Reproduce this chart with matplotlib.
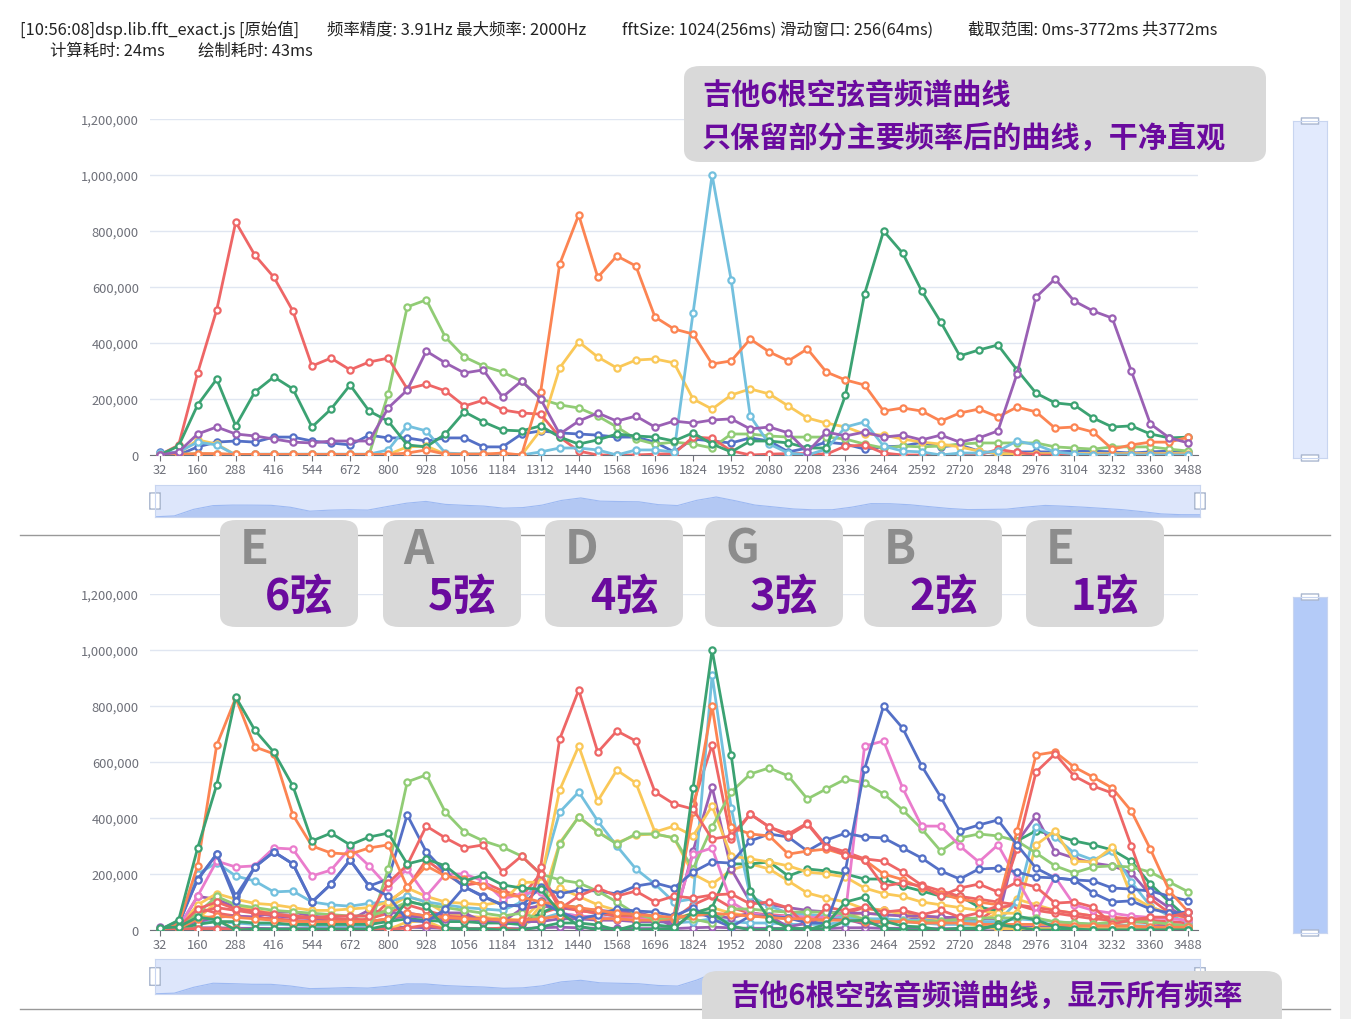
import matplotlib.pyplot as plt
import matplotlib.patches as mpatches
import numpy as np

plt.rcParams['font.family'] = ['Noto Sans CJK SC', 'DejaVu Sans']

x_labels = [str(v) for v in range(32, 3489, 64)]

# top chart series (values in thousands)
red = [0,35,293,518,832,714,635,514,318,346,304,332,346,236,253,229,175,196,161,150,146,
       64,14,0,0,0,3,5,64,60,15,0,3,5,5,3,32,35,
       7,0,0,0,0,0,20,10,0,0,0,0,0,0,0,0,0]
dkgreen = [0,32,179,271,104,225,279,236,100,164,250,157,121,36,29,75,154,118,89,86,104,
           64,39,54,75,68,64,50,79,39,11,50,50,43,25,25,214,575,
           800,721,586,475,354,375,393,304,221,186,179,132,100,104,75,61,64]
purple = [0,11,75,100,75,68,57,46,43,50,50,50,168,232,371,329,293,304,207,264,200,
          75,121,150,121,139,100,121,114,125,129,93,100,79,11,82,68,82,
          64,71,54,71,46,61,86,289,564,629,550,514,489,300,111,61,43]
lgreen = [0,3,5,3,2,2,2,2,2,2,2,2,218,529,554,421,350,318,296,264,200,
          179,168,139,100,57,39,46,39,25,75,75,68,64,64,64,57,39,
          25,32,29,32,39,43,43,43,43,29,25,21,29,29,29,21,14]
blue = [11,0,29,46,50,46,64,64,50,43,36,71,61,61,50,61,61,29,29,75,86,
        79,75,71,64,64,46,11,57,50,43,61,50,11,25,46,39,21,
        29,32,45,29,36,14,4,11,11,11,14,14,11,7,11,14,11]
sky = [7,11,46,36,0,3,3,3,3,3,3,3,18,104,86,7,4,4,0,0,11,
       25,25,18,0,18,18,11,507,1000,625,139,39,7,0,21,100,118,
       32,14,11,0,7,7,14,50,36,11,4,0,0,0,0,0,0]
yellow = [0,5,54,39,0,2,2,2,2,2,2,2,2,29,32,3,3,3,3,0,89,
          311,404,350,311,339,343,329,200,164,214,236,218,175,132,114,100,75,
          71,57,46,39,29,14,5,5,5,5,5,5,5,5,5,5,5]
orange = [0,2,5,5,2,2,2,2,2,2,2,2,2,7,18,3,3,3,7,0,225,
          682,857,635,711,675,493,450,432,325,336,414,368,336,379,296,268,250,
          157,168,157,121,150,164,136,171,154,96,100,82,21,36,46,46,64]

# extra series, only in the bottom chart
ex_orange = [0,20,230,660,829,654,629,411,300,275,271,293,304,154,229,193,182,157,129,118,100,
             90,80,70,60,55,50,45,50,60,55,50,45,40,40,35,35,30,
             30,30,25,25,25,20,20,20,20,20,15,15,15,15,10,10,10]
ex_blue = [5,20,182,271,121,225,279,236,100,164,250,157,182,411,279,207,154,121,89,86,154,
           129,143,139,129,157,168,150,207,243,239,318,343,332,282,321,346,332,
           329,293,257,211,182,218,221,207,189,186,179,175,150,146,139,121,104]
ex_pink = [5,10,121,246,225,229,293,289,193,214,293,229,154,218,121,200,200,175,111,129,136,
           60,50,45,40,40,40,40,271,293,100,60,50,50,45,45,60,657,
           675,507,371,371,300,243,304,182,60,189,90,70,60,50,45,40,35]
ex_lgreen = [3,10,60,120,90,80,70,65,60,55,50,50,70,100,90,80,70,60,50,60,40,
             307,404,350,307,343,343,329,218,368,493,557,579,550,468,504,539,525,
             486,429,361,282,329,343,336,318,275,229,204,225,229,225,207,171,136]
ex_yellow = [3,10,90,130,110,95,90,80,70,70,75,80,100,150,120,100,95,90,100,170,171,
             500,657,461,571,525,350,371,336,443,264,254,243,229,207,200,189,150,
             130,120,100,90,80,70,60,60,304,354,246,243,296,121,82,60,40]
ex_sky = [5,15,200,240,193,175,136,139,100,90,85,95,100,120,100,90,80,75,70,100,182,
          421,493,389,300,218,164,100,111,911,436,121,86,60,55,50,45,40,
          40,35,35,30,30,30,30,100,368,332,275,250,282,171,86,50,30]
ex_orange2 = [2,5,40,50,45,40,35,30,30,30,30,30,40,60,50,45,40,40,35,35,40,
              50,45,40,40,35,35,40,421,800,368,343,336,271,282,289,268,250,
              200,180,150,130,110,100,90,354,625,636,582,546,507,425,289,139,64]
ex_red = [2,8,60,80,70,60,55,50,45,40,40,35,100,150,250,200,160,170,140,120,200,
          90,70,60,50,45,40,50,450,661,325,414,368,343,382,300,279,254,
          246,207,160,140,120,110,100,90,80,70,60,50,45,40,35,30,25]
ex_purple = [3,8,120,110,80,60,50,45,40,35,30,30,40,50,45,40,40,35,30,30,30,
             40,40,35,35,30,30,30,282,511,218,100,90,80,70,65,60,60,
             55,50,50,45,45,40,40,314,407,279,257,239,229,204,125,79,39]
ex_dkgreen = [2,5,20,30,30,25,25,20,20,20,20,20,30,40,35,30,30,25,25,20,60,
              90,80,60,50,45,40,35,60,80,236,236,243,193,218,211,200,182,
              182,157,139,121,121,82,68,318,354,339,318,304,286,246,164,100,39]
low1 = [5,20,80,60,50,45,40,35,30,25,30,40,60,90,70,50,45,40,35,30,60,80,70,60,55,50,45,40,
        90,120,80,60,55,50,45,40,60,80,70,60,50,45,40,35,80,90,70,60,50,40,35,30,25,20,15]
low2 = [3,10,40,100,90,70,60,50,45,40,35,30,80,120,100,60,50,45,40,35,100,150,120,90,70,60,50,40,
        60,80,60,50,45,40,35,30,50,60,55,50,45,40,35,30,60,110,90,70,60,50,45,40,30,20,10]
low3 = [2,8,30,30,25,20,20,18,15,15,15,15,40,50,45,40,35,30,25,20,40,60,50,45,40,35,30,25,
        30,40,30,25,25,20,20,20,30,40,35,30,25,20,20,20,30,40,35,30,25,20,20,15,15,10,8]
low4 = [3,5,8,8,6,6,5,5,5,5,5,5,8,10,8,6,6,5,5,5,8,10,8,6,6,5,5,5,8,10,
        8,6,6,5,5,5,8,8,6,6,5,5,5,5,8,10,8,6,6,5,5,5,5,5,3]

C_BLUE, C_LG, C_YEL, C_RED, C_SKY, C_DG, C_OR, C_PUR, C_PINK = (
    '#5470c6', '#91cc75', '#fac858', '#ee6666', '#73c0de', '#3ba272', '#fc8452', '#9a60b4', '#ea7ccc')

top_series = [(blue, C_BLUE), (lgreen, C_LG), (yellow, C_YEL), (red, C_RED), (sky, C_SKY),
              (dkgreen, C_DG), (orange, C_OR), (purple, C_PUR)]
bottom_series = [(low4, C_PUR), (low3, C_SKY), (low2, C_YEL), (low1, C_RED),
                 (blue, C_PUR), (yellow, C_YEL), (ex_dkgreen, C_DG), (ex_purple, C_PUR),
                 (ex_red, C_RED), (ex_sky, C_SKY), (ex_yellow, C_YEL), (ex_lgreen, C_LG),
                 (ex_pink, C_PINK), (ex_blue, C_BLUE), (ex_orange2, C_OR), (lgreen, C_LG),
                 (purple, C_RED), (dkgreen, C_BLUE), (orange, C_RED), (ex_orange, C_OR),
                 (red, C_DG), (sky, C_DG)]

W, H = 1351, 1020
fig = plt.figure(figsize=(W / 100, H / 100), dpi=100)


def fax(x0, y0, x1, y1, **kw):
    return fig.add_axes([x0 / W, 1 - y1 / H, (x1 - x0) / W, (y1 - y0) / H], **kw)


idx = np.arange(len(x_labels))


def line_chart(y_top, y_bot, series):
    ax = fax(150, y_top, 1198, y_bot)
    for vals, col in series:
        ax.plot(idx, np.array(vals) * 1000, color=col, lw=2, marker='o', ms=4.5,
                mfc='white', mec=col, mew=1.6, zorder=3)
    ax.set_xlim(-0.5, len(idx) - 0.5)
    ax.set_ylim(0, 1200000)
    ax.set_yticks(range(0, 1200001, 200000))
    ax.set_yticklabels([f'{v:,}' for v in range(0, 1200001, 200000)])
    ax.set_xticks(idx[::2])
    ax.set_xticklabels(x_labels[::2])
    ax.tick_params(axis='y', length=0, labelsize=9.3, labelcolor='#6E7079', pad=8)
    ax.tick_params(axis='x', length=4, color='#6E7079', labelsize=9.3, labelcolor='#6E7079', pad=2)
    ax.grid(axis='y', color='#E0E6F1', lw=1)
    ax.set_axisbelow(True)
    for s in ['top', 'right', 'left']:
        ax.spines[s].set_visible(False)
    ax.spines['bottom'].set_color('#6E7079')
    return ax


def h_slider(y0, y1, series):
    ax = fax(155, y0, 1200, y1)
    total = np.sum([np.array(v) for v, _ in series], axis=0)
    ax.fill_between(idx, total, color='#b3c8f3', lw=0)
    ax.plot(idx, total, color='#9db9f2', lw=0.8)
    ax.set_xlim(0, len(idx) - 1)
    ax.set_ylim(0, total.max() * 1.6)
    ax.set_facecolor('#dde6fb')
    ax.set_xticks([]); ax.set_yticks([])
    for s in ax.spines.values():
        s.set_color('#c8d5f0')
    for hx in (0.0, 1.0):
        ax.add_patch(mpatches.FancyBboxPatch((hx - 0.003, 0.25), 0.006, 0.5, boxstyle='round,pad=0.002',
                                             transform=ax.transAxes, fc='white', ec='#aab7cf', lw=1,
                                             clip_on=False))


def v_slider(y0, y1, fc):
    ax = fax(1293, y0, 1327, y1)
    ax.set_facecolor(fc)
    ax.set_xticks([]); ax.set_yticks([])
    for s in ax.spines.values():
        s.set_color('#c8d5f0')
    for hy in (0.0, 1.0):
        ax.add_patch(mpatches.FancyBboxPatch((0.25, hy - 0.006), 0.5, 0.012, boxstyle='round,pad=0.003',
                                             transform=ax.transAxes, fc='white', ec='#aab7cf', lw=1,
                                             clip_on=False))


line_chart(120, 456, top_series)
h_slider(486, 518, top_series)
v_slider(122, 459, '#e2eafd')
line_chart(595, 931, bottom_series)
h_slider(960, 995, bottom_series)
v_slider(598, 934, '#b4cbf8')

# header
hdr = dict(fontsize=11.8, color='#222222', va='center')
fig.text(20 / W, 1 - 30 / H, '[10:56:08]dsp.lib.fft_exact.js [原始值]', **hdr)
fig.text(327 / W, 1 - 30 / H, '频率精度: 3.91Hz 最大频率: 2000Hz', **hdr)
fig.text(622 / W, 1 - 30 / H, 'fftSize: 1024(256ms) 滑动窗口: 256(64ms)', **hdr)
fig.text(968 / W, 1 - 30 / H, '截取范围: 0ms-3772ms 共3772ms', **hdr)
fig.text(50 / W, 1 - 51 / H, '计算耗时: 24ms', **hdr)
fig.text(198 / W, 1 - 51 / H, '绘制耗时: 43ms', **hdr)

# separators and right border
fig.add_artist(plt.Line2D([20 / W, 1330 / W], [1 - 536 / H] * 2, color='#999999', lw=1))
fig.add_artist(plt.Line2D([20 / W, 1330 / W], [1 - 1010 / H] * 2, color='#999999', lw=1))
fig.add_artist(mpatches.Rectangle((1340 / W, 0), 11 / W, 1, transform=fig.transFigure,
                                  fc='#eeeeee', ec='none'))

PURPLE_TXT = '#6a0a9e'


def box(x0, y0, x1, y1):
    fig.add_artist(mpatches.FancyBboxPatch((x0 / W, 1 - y1 / H), (x1 - x0) / W, (y1 - y0) / H,
                                           boxstyle='round,pad=0,rounding_size=0.012',
                                           transform=fig.transFigure, fc='#d9d9d9', ec='none', zorder=5))


box(684, 67, 1266, 163)
fig.text(702 / W, 1 - 95 / H, '吉他6根空弦音频谱曲线', fontsize=21, fontweight='bold',
         color=PURPLE_TXT, va='center', zorder=6)
fig.text(702 / W, 1 - 138 / H, '只保留部分主要频率后的曲线，干净直观', fontsize=21, fontweight='bold',
         color=PURPLE_TXT, va='center', zorder=6)

notes = ['E', 'A', 'D', 'G', 'B', 'E']
strings = ['6弦', '5弦', '4弦', '3弦', '2弦', '1弦']
box_x = [220, 383, 545, 705, 864, 1026]
for bx, n, s in zip(box_x, notes, strings):
    box(bx, 521, bx + 138, 628)
    fig.text((bx + 20) / W, 1 - 550 / H, n, fontsize=34, fontweight='bold', color='#8c8c8c',
             va='center', zorder=6)
    fig.text((bx + 45) / W, 1 - 597 / H, s, fontsize=31, fontweight='bold', color=PURPLE_TXT,
             va='center', zorder=6)

box(702, 972, 1282, 1030)
fig.text(730 / W, 1 - 996 / H, '吉他6根空弦音频谱曲线，显示所有频率', fontsize=21, fontweight='bold',
         color=PURPLE_TXT, va='center', zorder=6)

fig.savefig('out.png', dpi=100)
